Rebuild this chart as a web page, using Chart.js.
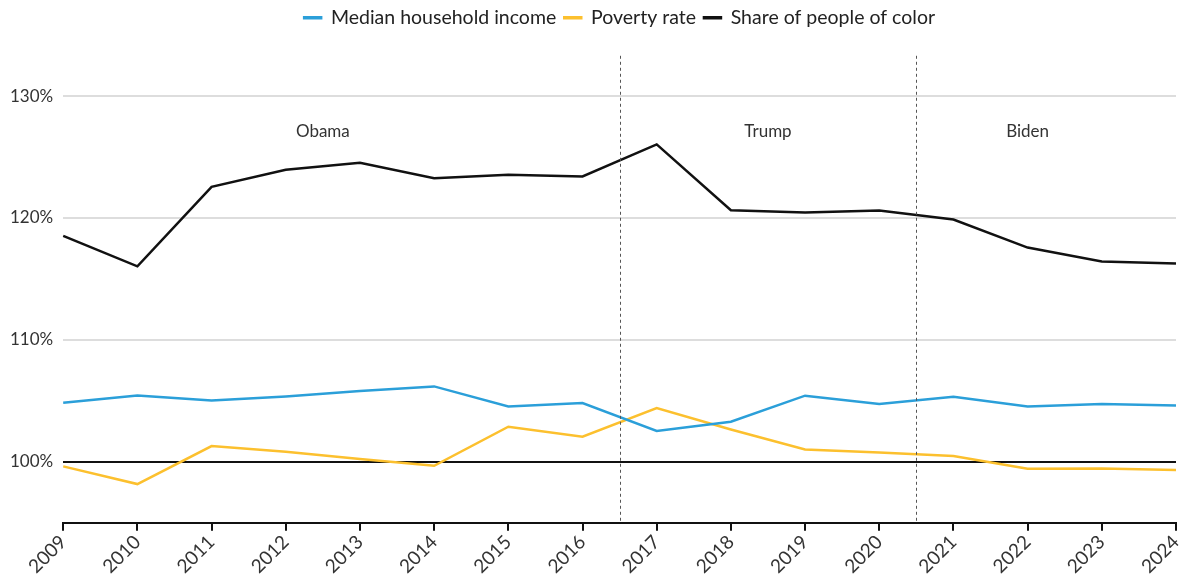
<!DOCTYPE html>
<html>
<head>
<meta charset="utf-8">
<script src="https://cdn.jsdelivr.net/npm/chart.js@4"></script>
<style>
  html, body { margin: 0; padding: 0; background: #fff; }
  #wrap { width: 1187px; height: 578px; }
</style>
</head>
<body>
<div id="wrap"><canvas id="myChart"></canvas></div>
<script>
const years = ['2009','2010','2011','2012','2013','2014','2015','2016','2017','2018','2019','2020','2021','2022','2023','2024'];
const incomeValues = [104.84,105.44,105.03,105.36,105.80,106.18,104.54,104.82,102.52,103.28,105.42,104.73,105.34,104.54,104.73,104.62];
const povertyValues = [99.62,98.17,101.29,100.82,100.22,99.67,102.87,102.05,104.41,102.65,101.01,100.76,100.47,99.43,99.45,99.32];
const colorShareValues = [118.53,116.03,122.55,123.95,124.52,123.26,123.54,123.40,126.03,120.63,120.44,120.61,119.87,117.57,116.42,116.26];
const yTicks = [100, 110, 120, 130];

// term boundaries (index on the category axis) and labels
const termLines = [7.5, 11.5];
const termLabels = [
  { text: 'Obama', x: 3.5 },
  { text: 'Trump', x: 9.5 },
  { text: 'Biden', x: 13.0 }
];

const termsPlugin = {
  id: 'terms',
  afterLayout(chart) {
    // center the legend over the plot area rather than the whole canvas
    const lg = chart.legend;
    const shift = (chart.chartArea.left + chart.chartArea.right) / 2 - (lg.left + lg.right) / 2;
    lg.left += shift;
    lg.right += shift;
  },
  afterDatasetsDraw(chart) {
    const { ctx, scales: { x, y } } = chart;
    ctx.save();
    ctx.strokeStyle = '#555';
    ctx.lineWidth = 1;
    ctx.setLineDash([3, 3]);
    termLines.forEach(v => {
      const px = Math.round(x.getPixelForValue(v)) + 0.5;
      ctx.beginPath();
      ctx.moveTo(px, y.getPixelForValue(133.3));
      ctx.lineTo(px, y.bottom);
      ctx.stroke();
    });
    ctx.setLineDash([]);
    ctx.fillStyle = '#333';
    ctx.font = '17px Lato';
    ctx.textAlign = 'center';
    ctx.textBaseline = 'middle';
    termLabels.forEach(t => {
      ctx.fillText(t.text, x.getPixelForValue(t.x), y.getPixelForValue(127.07));
    });
    ctx.restore();
  }
};

const ctx = document.getElementById('myChart');

new Chart(ctx, {
  type: 'line',
  data: {
    labels: years,
    datasets: [
      {
        label: 'Median household income',
        data: incomeValues,
        borderColor: '#2b9fd9',
        backgroundColor: '#2b9fd9',
        borderWidth: 2.5,
        pointRadius: 0,
        tension: 0
      },
      {
        label: 'Poverty rate',
        data: povertyValues,
        borderColor: '#fcc02e',
        backgroundColor: '#fcc02e',
        borderWidth: 2.5,
        pointRadius: 0,
        tension: 0
      },
      {
        label: 'Share of people of color',
        data: colorShareValues,
        borderColor: '#111',
        backgroundColor: '#111',
        borderWidth: 2.5,
        pointRadius: 0,
        tension: 0
      }
    ]
  },
  options: {
    responsive: true,
    maintainAspectRatio: false,
    animation: false,
    layout: {
      padding: { left: 0, right: 0, top: 0, bottom: 0 }
    },
    plugins: {
      legend: {
        position: 'top',
        labels: {
          color: '#222',
          font: { family: 'Lato', size: 19.5 },
          boxWidth: 17,
          boxHeight: 1,
          padding: 8
        }
      },
      tooltip: { enabled: false }
    },
    scales: {
      x: {
        offset: false,
        afterFit: (scale) => {
          scale.paddingRight = 11;
        },
        grid: {
          display: true,
          drawOnChartArea: false,
          drawTicks: true,
          tickLength: 8,
          color: '#111',
          lineWidth: 2
        },
        border: { display: true, color: '#111', width: 2 },
        ticks: {
          color: '#333',
          font: { family: 'Lato', size: 19 },
          minRotation: 45,
          maxRotation: 45,
          autoSkip: false,
          padding: 0
        }
      },
      y: {
        min: 95,
        max: 134.8,
        afterBuildTicks: (scale) => {
          scale.ticks = yTicks.map(v => ({ value: v }));
        },
        grid: {
          color: (c) => c.tick && c.tick.value === 100 ? '#111' : '#ddd',
          lineWidth: 2,
          drawTicks: false
        },
        border: { display: false },
        ticks: {
          color: '#333',
          font: { family: 'Lato', size: 17 },
          padding: 10,
          callback: (v) => v + '%'
        }
      }
    }
  },
  plugins: [termsPlugin]
});
</script>
</body>
</html>
